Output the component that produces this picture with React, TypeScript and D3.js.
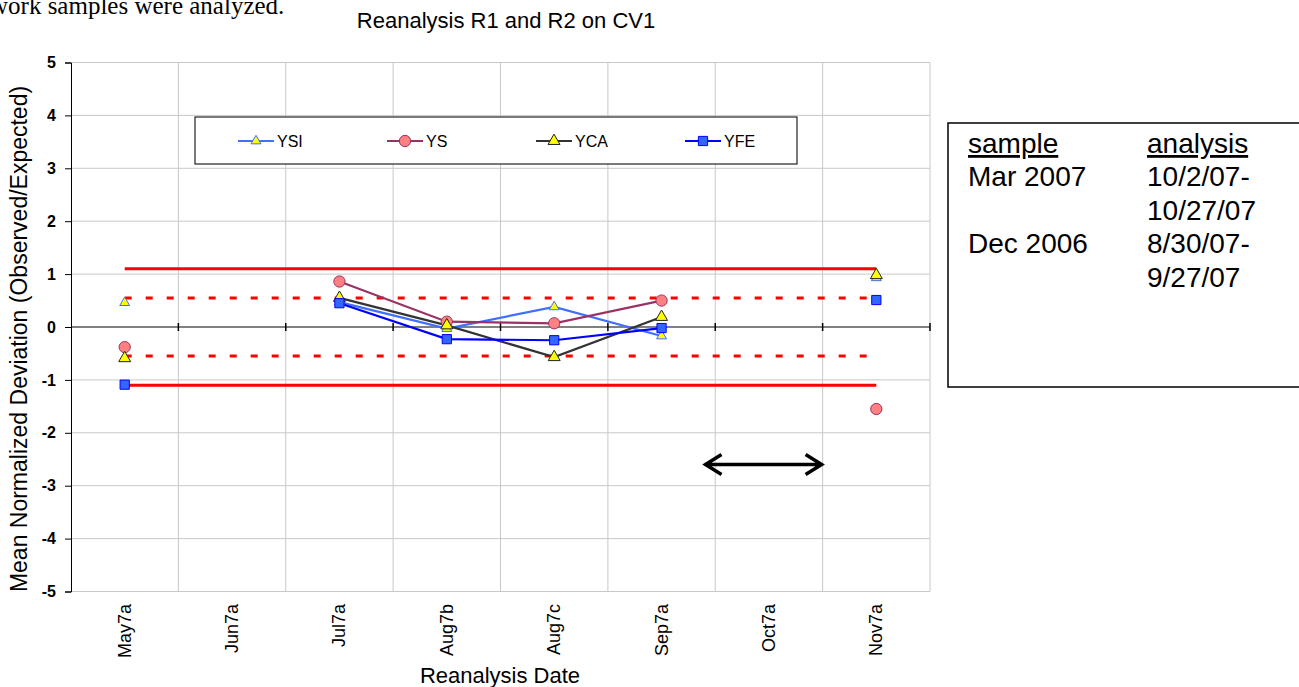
import React, { useRef, useEffect } from 'react';
import * as d3 from 'd3';

// reanalysis dates on the x axis
const categories = ['May7a', 'Jun7a', 'Jul7a', 'Aug7b', 'Aug7c', 'Sep7a', 'Oct7a', 'Nov7a'];

// mean normalized deviation per series (null = no analysis)
const ysi = [0.46, null, 0.47, -0.03, 0.38, -0.17, null, 0.93];
const ys = [-0.38, null, 0.86, 0.1, 0.07, 0.5, null, -1.55];
const yca = [-0.59, null, 0.55, 0.03, -0.57, 0.19, null, 0.98];
const yfe = [-1.09, null, 0.45, -0.23, -0.25, -0.02, null, 0.51];

const yTicks = [-5, -4, -3, -2, -1, 0, 1, 2, 3, 4, 5];
const solidLimits = [1.1, -1.1];
const dottedLimits = [0.55, -0.55];

const boxRows = [
  ['Mar 2007', '10/2/07-'],
  ['', '10/27/07'],
  ['Dec 2006', '8/30/07-'],
  ['', '9/27/07'],
];

const FONT = '"Liberation Sans", Arial, sans-serif';

const App = () => {
  const ref = useRef<SVGSVGElement>(null);

  useEffect(() => {
    const svg = d3.select(ref.current);
    svg.selectAll('*').remove();

    const left = 71, right = 930, top = 62.5, bottom = 591.5;

    const x = d3.scaleBand().domain(categories).range([left, right]).padding(0);
    const y = d3.scaleLinear().domain([-5, 5]).range([bottom, top]);
    const cx = (c: string) => (x(c) as number) + x.bandwidth() / 2;

    const series = [
      { name: 'YSI', values: ysi, line: '#3f6fff', fill: '#ffff00', stroke: '#3f6fff', sym: d3.symbolTriangle, size: 42 },
      { name: 'YS', values: ys, line: '#993366', fill: '#ff8080', stroke: '#993366', sym: d3.symbolCircle, size: 100 },
      { name: 'YCA', values: yca, line: '#333333', fill: '#ffff00', stroke: '#222222', sym: d3.symbolTriangle, size: 62 },
      { name: 'YFE', values: yfe, line: '#0000ff', fill: '#3366ff', stroke: '#0000ff', sym: d3.symbolSquare, size: 85 },
    ];

    // top-left fragment of the surrounding document
    svg.append('text')
      .attr('x', -10).attr('y', 14)
      .style('font-family', '"Liberation Serif", "Times New Roman", serif')
      .style('font-size', '25px')
      .text('work samples were analyzed.');

    svg.append('text')
      .attr('x', 506).attr('y', 28)
      .attr('text-anchor', 'middle')
      .style('font-family', FONT).style('font-size', '22px')
      .text('Reanalysis R1 and R2 on CV1');

    // gridlines
    const grid = svg.append('g').attr('stroke', '#c8c8c8').attr('stroke-width', 1);
    grid.selectAll('line.h').data(yTicks).enter().append('line')
      .attr('x1', left).attr('x2', right)
      .attr('y1', d => y(d)).attr('y2', d => y(d));
    grid.selectAll('line.v').data(categories).enter().append('line')
      .attr('x1', d => (x(d) as number) + x.bandwidth())
      .attr('x2', d => (x(d) as number) + x.bandwidth())
      .attr('y1', top).attr('y2', bottom);

    // zero axis with category ticks
    svg.append('line')
      .attr('x1', left).attr('x2', right)
      .attr('y1', y(0)).attr('y2', y(0))
      .attr('stroke', '#808080').attr('stroke-width', 2);
    svg.append('g').selectAll('line').data(categories).enter().append('line')
      .attr('x1', d => (x(d) as number) + x.bandwidth())
      .attr('x2', d => (x(d) as number) + x.bandwidth())
      .attr('y1', y(0) - 4).attr('y2', y(0) + 4)
      .attr('stroke', '#000').attr('stroke-width', 1.5);

    // left axis
    const ya = svg.append('g')
      .attr('transform', `translate(${left},0)`)
      .call(d3.axisLeft(y).tickValues(yTicks).tickSize(6).tickPadding(9).tickFormat(d => String(d)));
    ya.select('.domain').attr('stroke', '#000');
    ya.selectAll('.tick line').attr('stroke', '#000');
    ya.selectAll('.tick text')
      .style('font-family', FONT).style('font-size', '16px').style('font-weight', 'bold').attr('fill', '#000');

    // x labels
    svg.append('g').selectAll('text').data(categories).enter().append('text')
      .attr('transform', d => `translate(${cx(d) + 6},604) rotate(-90)`)
      .attr('text-anchor', 'end')
      .style('font-family', FONT).style('font-size', '18px')
      .text(d => d);

    svg.append('text')
      .attr('x', 500).attr('y', 683)
      .attr('text-anchor', 'middle')
      .style('font-family', FONT).style('font-size', '22px')
      .text('Reanalysis Date');

    svg.append('text')
      .attr('transform', `translate(27,339) rotate(-90)`)
      .attr('text-anchor', 'middle')
      .style('font-family', FONT).style('font-size', '23px')
      .text('Mean Normalized Deviation (Observed/Expected)');

    // control limits
    const x0 = cx(categories[0]), x1 = cx(categories[categories.length - 1]);
    svg.append('g').selectAll('line').data(solidLimits).enter().append('line')
      .attr('x1', x0).attr('x2', x1)
      .attr('y1', d => y(d)).attr('y2', d => y(d))
      .attr('stroke', '#ff0000').attr('stroke-width', 3);
    svg.append('g').selectAll('line').data(dottedLimits).enter().append('line')
      .attr('x1', x0).attr('x2', x1)
      .attr('y1', d => y(d)).attr('y2', d => y(d))
      .attr('stroke', '#ff0000').attr('stroke-width', 3)
      .attr('stroke-dasharray', '7,14');

    // series lines and markers
    const line = d3.line<number | null>()
      .defined(v => v !== null)
      .x((_, i) => cx(categories[i]))
      .y(v => y(v as number));

    series.forEach(s => {
      svg.append('path')
        .attr('d', line(s.values))
        .attr('fill', 'none')
        .attr('stroke', s.line).attr('stroke-width', 2.2);
    });
    series.forEach(s => {
      svg.append('g').selectAll('path')
        .data(s.values.map((v, i) => ({ v, c: categories[i] })).filter(d => d.v !== null))
        .enter().append('path')
        .attr('d', d3.symbol(s.sym, s.size)())
        .attr('transform', d => `translate(${cx(d.c)},${y(d.v as number)})`)
        .attr('fill', s.fill).attr('stroke', s.stroke).attr('stroke-width', 1);
    });

    // legend
    const lg = svg.append('g');
    lg.append('rect')
      .attr('x', 195).attr('y', 117).attr('width', 602).attr('height', 47)
      .attr('fill', '#fff').attr('stroke', '#222').attr('stroke-width', 1.2);
    series.forEach((s, i) => {
      const lx = 238 + i * 149;
      const ly = 141;
      lg.append('line')
        .attr('x1', lx).attr('x2', lx + 36).attr('y1', ly).attr('y2', ly)
        .attr('stroke', s.line).attr('stroke-width', 2.2);
      lg.append('path')
        .attr('d', d3.symbol(s.sym, s.size)())
        .attr('transform', `translate(${lx + 18},${ly})`)
        .attr('fill', s.fill).attr('stroke', s.stroke).attr('stroke-width', 1);
      lg.append('text')
        .attr('x', lx + 39).attr('y', ly + 6)
        .style('font-family', FONT).style('font-size', '16px')
        .text(s.name);
    });

    // double arrow annotation
    const ax1 = cx('Sep7a') + 0.4 * x.bandwidth();
    const ax2 = (x('Nov7a') as number);
    const ay = y(-2.6);
    svg.append('path')
      .attr('d', `M${ax1},${ay}L${ax2},${ay}M${ax1 + 17},${ay - 10}L${ax1 + 1},${ay}L${ax1 + 17},${ay + 10}M${ax2 - 17},${ay - 10}L${ax2 - 1},${ay}L${ax2 - 17},${ay + 10}`)
      .attr('fill', 'none').attr('stroke', '#000').attr('stroke-width', 3.5);

    // sample / analysis text box
    const box = svg.append('g');
    box.append('rect')
      .attr('x', 948).attr('y', 123).attr('width', 360).attr('height', 264)
      .attr('fill', '#fff').attr('stroke', '#000').attr('stroke-width', 1.5);
    box.append('text')
      .attr('x', 968).attr('y', 153)
      .style('font-family', FONT).style('font-size', '28px').style('text-decoration', 'underline')
      .text('sample');
    box.append('text')
      .attr('x', 1147).attr('y', 153)
      .style('font-family', FONT).style('font-size', '28px').style('text-decoration', 'underline')
      .text('analysis');
    boxRows.forEach((r, i) => {
      box.append('text')
        .attr('x', 968).attr('y', 186 + i * 33.7)
        .style('font-family', FONT).style('font-size', '28px')
        .text(r[0]);
      box.append('text')
        .attr('x', 1147).attr('y', 186 + i * 33.7)
        .style('font-family', FONT).style('font-size', '28px')
        .text(r[1]);
    });
  }, []);

  return (
    <svg ref={ref} width={1299} height={687}
      style={{ position: 'absolute', left: 0, top: 0, background: '#fff' }} />
  );
};

export default App;
